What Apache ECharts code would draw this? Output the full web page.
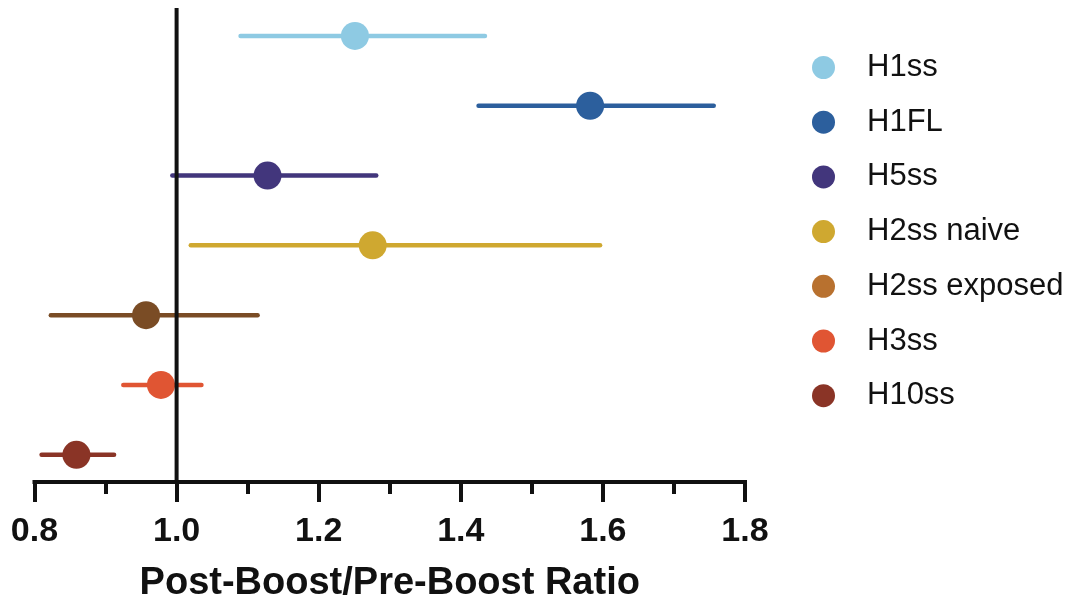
<!DOCTYPE html>
<html>
<head>
<meta charset="utf-8">
<script src="https://cdn.jsdelivr.net/npm/echarts@6/dist/echarts.min.js"></script>
<style>
  html, body { margin: 0; padding: 0; background: #fff; }
  #chart { width: 1067px; height: 599px; }
</style>
</head>
<body>
<div id="chart"></div>
<script>
// Boost ratio per antigen (point estimate with confidence interval), top to bottom
const groups = ['H1ss', 'H1FL', 'H5ss', 'H2ss naive', 'H2ss exposed', 'H3ss', 'H10ss'];
const ratio  = [1.251, 1.582, 1.128, 1.276, 0.957, 0.978, 0.859];
const ciLow  = [1.090, 1.425, 0.994, 1.020, 0.823, 0.925, 0.810];
const ciHigh = [1.434, 1.756, 1.281, 1.596, 1.114, 1.035, 0.912];
const pointColors  = ['#8ecae3', '#2c5f9d', '#42367c', '#cfa830', '#7a4c25', '#e05533', '#8a3426'];
const legendColors = ['#8ecae3', '#2c5f9d', '#42367c', '#cfa830', '#b8712f', '#e05533', '#8a3426'];
const referenceRatio = 1.0;
const xRange = [0.8, 1.8];

const FONT = '"Liberation Sans", Arial, Helvetica, sans-serif';
const Y_MIN = -0.4, Y_MAX = 6.39;

const chart = echarts.init(document.getElementById('chart'), null, { renderer: 'canvas' });

const scatterSeries = groups.map((g, i) => ({
  name: g,
  type: 'scatter',
  symbol: 'circle',
  symbolSize: 28,
  z: 3,
  itemStyle: { color: pointColors[i], opacity: 1 },
  emphasis: { disabled: true },
  data: [[ratio[i], i]]
}));

const option = {
  animation: false,
  backgroundColor: '#fff',
  grid: { left: 34.5, right: 322, top: 8, bottom: 117, containLabel: false, outerBoundsMode: 'none' },
  xAxis: {
    type: 'value',
    position: 'bottom',
    min: xRange[0], max: xRange[1], interval: 0.2,
    axisLine: { show: true, onZero: false, lineStyle: { color: '#111', width: 4, cap: 'square' } },
    axisTick: { show: true, length: 20, lineStyle: { color: '#111', width: 4 } },
    minorTick: { show: true, splitNumber: 2, length: 12, lineStyle: { color: '#111', width: 4 } },
    splitLine: { show: false },
    axisLabel: {
      margin: 33,
      formatter: v => v.toFixed(1),
      fontFamily: FONT, fontWeight: 'bold', fontSize: 34, color: '#111'
    },
    name: 'Post-Boost/Pre-Boost Ratio',
    nameLocation: 'middle',
    nameGap: 83,
    nameTextStyle: { fontFamily: FONT, fontWeight: 'bold', fontSize: 38, color: '#111' }
  },
  yAxis: {
    type: 'value',
    min: Y_MIN, max: Y_MAX, inverse: true,
    show: false
  },
  legend: {
    orient: 'vertical',
    left: 807, top: 47,
    itemWidth: 23, itemHeight: 23,
    itemGap: 23.7,
    icon: 'circle',
    selectedMode: false,
    textStyle: {
      fontFamily: FONT, fontSize: 31, color: '#111', lineHeight: 31,
      padding: [0, 0, 0, 27]
    },
    data: groups.map((g, i) => ({ name: g, itemStyle: { color: legendColors[i] } }))
  },
  series: [
    {
      name: 'interval',
      type: 'custom',
      z: 2,
      silent: true,
      data: groups.map((g, i) => [ciLow[i], ciHigh[i], i]),
      renderItem: (params, api) => {
        const a = api.coord([api.value(0), api.value(2)]);
        const b = api.coord([api.value(1), api.value(2)]);
        return {
          type: 'line',
          shape: { x1: a[0], y1: a[1], x2: b[0], y2: b[1] },
          style: { stroke: pointColors[params.dataIndex], lineWidth: 4.5, lineCap: 'round' }
        };
      }
    },
    ...scatterSeries,
    {
      name: 'reference',
      type: 'custom',
      z: 10,
      silent: true,
      data: [[referenceRatio]],
      renderItem: (params, api) => {
        const top = api.coord([api.value(0), Y_MIN]);
        const bottom = api.coord([api.value(0), Y_MAX]);
        return {
          type: 'line',
          shape: { x1: top[0], y1: top[1], x2: bottom[0], y2: bottom[1] },
          style: { stroke: '#111', lineWidth: 4 }
        };
      }
    }
  ]
};

chart.setOption(option);
</script>
</body>
</html>
